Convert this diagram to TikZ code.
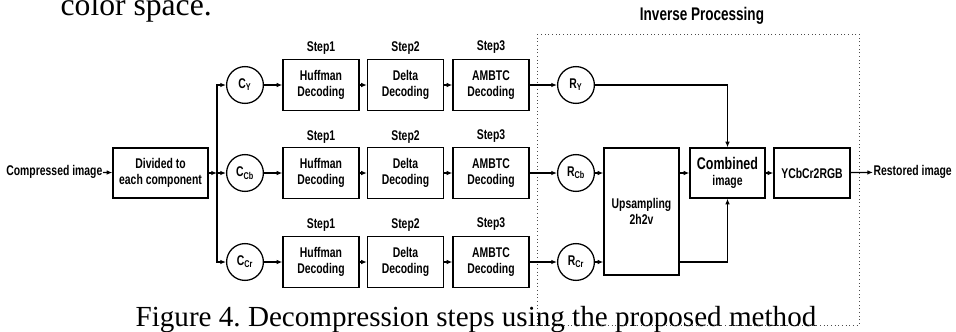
\documentclass[tikz,border=0pt]{standalone}
\usepackage{fontspec}
\setmainfont{Liberation Serif}
\newfontfamily\diagfont[FakeStretch=0.74]{Liberation Sans}
\usetikzlibrary{arrows.meta}
\frenchspacing
\begin{document}
\begin{tikzpicture}[x=0.025cm,y=-0.025cm,
    font=\diagfont\bfseries\fontsize{10}{11.5}\selectfont,
    line width=0.9pt,>={Latex[length=4pt,width=3.2pt]},
    blk/.style={draw,align=center,minimum width=1.9cm,minimum height=1.275cm,inner sep=1pt},
    comp/.style={draw,circle,minimum size=0.92cm,inner sep=0pt},
    steplbl/.style={inner sep=0pt},
    serif/.style={font=\rmfamily\mdseries\fontsize{20.7}{24}\selectfont,inner sep=0pt,anchor=base west}]
  \useasboundingbox (0,0) rectangle (956,331);
  \node[serif,font=\rmfamily\mdseries\fontsize{22.5}{26}\selectfont] (prev) at (60,15) {color space.};
  \node[serif] (cap) at (135,326.5) {Figure 4. Decompression steps using the proposed method};
  % input side
  \node[anchor=east,inner sep=0pt] (in) at (103,172) {Compressed image};
  \node[blk,minimum width=2.375cm,minimum height=1.25cm] (div) at (160.5,173) {Divided to\\each component};
  \coordinate (split) at (217,173);
  % components
  \node[comp] (cy) at (245,85) {C\textsubscript{Y}};
  \node[comp] (cb) at (245,173) {C\textsubscript{Cb}};
  \node[comp] (cr) at (245,262) {C\textsubscript{Cr}};
  % step 1
  \node[blk] (h1) at (321,85) {Huffman\\Decoding};
  \node[blk] (h2) at (321,173) {Huffman\\Decoding};
  \node[blk] (h3) at (321,262) {Huffman\\Decoding};
  % step 2
  \node[blk] (d1) at (405.5,85) {Delta\\Decoding};
  \node[blk] (d2) at (405.5,173) {Delta\\Decoding};
  \node[blk] (d3) at (405.5,262) {Delta\\Decoding};
  % step 3
  \node[blk] (a1) at (491,85) {AMBTC\\Decoding};
  \node[blk] (a2) at (491,173) {AMBTC\\Decoding};
  \node[blk] (a3) at (491,262) {AMBTC\\Decoding};
  \node[steplbl] (s11) at (321,48) {Step1};
  \node[steplbl] (s12) at (405.5,48) {Step2};
  \node[steplbl] (s13) at (491,47) {Step3};
  \node[steplbl] (s21) at (321,137) {Step1};
  \node[steplbl] (s22) at (405.5,137) {Step2};
  \node[steplbl] (s23) at (491,136) {Step3};
  \node[steplbl] (s31) at (321,225) {Step1};
  \node[steplbl] (s32) at (405.5,225) {Step2};
  \node[steplbl] (s33) at (491,224) {Step3};
  % inverse processing
  \draw[dotted,line width=0.6pt,gray!60!black] (537,34) rectangle (859,325);
  \node[font=\diagfont\bfseries\fontsize{13}{15}\selectfont] (inv) at (702,16) {Inverse Processing};
  \node[comp] (ry) at (576,85) {R\textsubscript{Y}};
  \node[comp] (rb) at (576,173) {R\textsubscript{Cb}};
  \node[comp] (rr) at (576,262) {R\textsubscript{Cr}};
  \node[blk,minimum width=1.875cm,minimum height=3.175cm] (up) at (641.5,211.5) {Upsampling\\2h2v};
  \node[blk,minimum width=1.875cm,minimum height=1.25cm] (comb) at (727.5,173) {{\fontsize{12}{13}\selectfont Combined}\\image};
  \node[blk,minimum height=1.25cm] (rgb) at (812,173) {YCbCr2RGB};
  \node[anchor=west,inner sep=0pt] (out) at (873,172) {Restored image};
  % connectors
  \draw[->] (in) -- (div);
  \draw[->] (div) -- (split);
  \draw[->] (split) |- (cy);
  \draw[->] (split) -- (cb);
  \draw[->] (split) |- (cr);
  \draw[->] (cy) -- (h1);
  \draw[->] (h1) -- (d1);
  \draw[->] (d1) -- (a1);
  \draw[->] (a1) -- (ry);
  \draw[->] (cb) -- (h2);
  \draw[->] (h2) -- (d2);
  \draw[->] (d2) -- (a2);
  \draw[->] (a2) -- (rb);
  \draw[->] (cr) -- (h3);
  \draw[->] (h3) -- (d3);
  \draw[->] (d3) -- (a3);
  \draw[->] (a3) -- (rr);
  \draw[->] (ry) -| (comb);
  \draw[->] (rb) -- (up.west |- rb);
  \draw[->] (rr) -- (up.west |- rr);
  \draw[->] (up.east |- comb) -- (comb);
  \draw[->] (up.east |- rr) -| (comb);
  \draw[->] (comb) -- (rgb);
  \draw[->] (rgb) -- (out);
\end{tikzpicture}
\end{document}
